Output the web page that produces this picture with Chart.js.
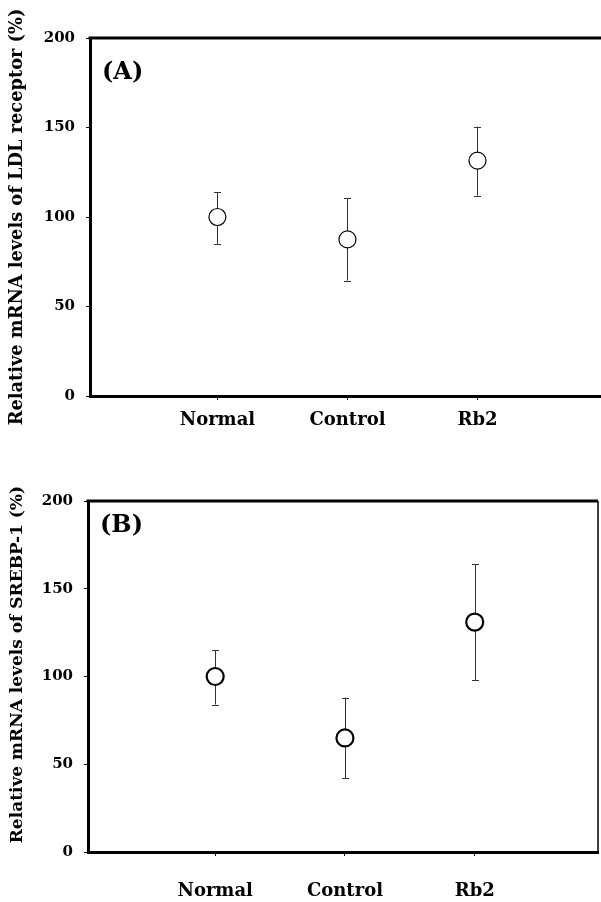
<!DOCTYPE html>
<html><head><meta charset="utf-8">
<script src="https://cdn.jsdelivr.net/npm/chart.js@4.4.0/dist/chart.umd.min.js"></script>
<style>
html,body{margin:0;padding:0;background:#fff;overflow:hidden;width:601px;height:902px}
.box{position:absolute;left:0;width:601px;height:451px}
#b1{top:0}
#b2{top:451px}
</style></head><body>
<div class="box" id="b1"><canvas id="c1"></canvas></div>
<div class="box" id="b2"><canvas id="c2"></canvas></div>
<script>
const categories = ['Normal', 'Control', 'Rb2'];
const ldlMean  = [100, 87.5, 131.5];
const ldlUpper = [114, 110.5, 150.5];
const ldlLower = [85, 64.5, 112];
const srebpMean  = [100, 65, 131];
const srebpUpper = [115, 88, 164];
const srebpLower = [84, 42, 98];
const yTickValues = [0, 50, 100, 150, 200];

const FONT = "'DejaVu Serif', 'Liberation Serif', serif";

const errorBarPlugin = {
  id: 'errorBars',
  beforeDatasetsDraw(chart) {
    const ctx = chart.ctx;
    const ys = chart.scales.y;
    chart.data.datasets.forEach((ds, di) => {
      const meta = chart.getDatasetMeta(di);
      ctx.save();
      ctx.strokeStyle = '#333';
      ctx.lineWidth = 1;
      meta.data.forEach((pt, i) => {
        const x = Math.round(pt.x) + 0.5;
        const yu = ys.getPixelForValue(ds.errUpper[i]);
        const yl = ys.getPixelForValue(ds.errLower[i]);
        ctx.beginPath();
        ctx.moveTo(x, yu); ctx.lineTo(x, yl);
        ctx.moveTo(x - 3.5, Math.round(yu) + 0.5); ctx.lineTo(x + 3.5, Math.round(yu) + 0.5);
        ctx.moveTo(x - 3.5, Math.round(yl) + 0.5); ctx.lineTo(x + 3.5, Math.round(yl) + 0.5);
        ctx.stroke();
      });
      ctx.restore();
    });
  }
};

const framePlugin = {
  id: 'frame',
  afterDraw(chart, args, opts) {
    const a = chart.chartArea;
    const ctx = chart.ctx;
    ctx.save();
    ctx.strokeStyle = '#000';
    ctx.lineWidth = opts.topWidth;
    ctx.beginPath();
    ctx.moveTo(a.left - 1.5, a.top); ctx.lineTo(a.right, a.top);
    ctx.stroke();
    if (opts.rightWidth > 0) {
      ctx.lineWidth = opts.rightWidth;
      ctx.beginPath();
      ctx.moveTo(a.right, a.top); ctx.lineTo(a.right, a.bottom + 1);
      ctx.stroke();
    }
    ctx.fillStyle = '#000';
    ctx.font = 'bold 24px ' + FONT;
    ctx.textBaseline = 'middle';
    ctx.textAlign = 'left';
    ctx.fillText(opts.label, a.left + 12, a.top + opts.labelDy);
    ctx.restore();
  }
};

function makeChart(id, cfg) {
  return new Chart(document.getElementById(id), {
    type: 'scatter',
    data: {
      datasets: [{
        data: cfg.mean.map((v, i) => ({x: i, y: v})),
        errUpper: cfg.upper,
        errLower: cfg.lower,
        pointStyle: 'circle',
        pointRadius: 8.5,
        pointHoverRadius: 8.5,
        pointBackgroundColor: '#fff',
        pointBorderColor: '#000',
        pointBorderWidth: cfg.pointBorder,
        showLine: false
      }]
    },
    options: {
      responsive: true,
      maintainAspectRatio: false,
      animation: false,
      events: [],
      layout: {autoPadding: false, padding: {top: cfg.padTop, right: cfg.padRight, left: 0, bottom: 0}},
      plugins: {
        legend: {display: false},
        tooltip: {enabled: false},
        frame: {topWidth: 3, rightWidth: cfg.rightWidth, label: cfg.label, labelDy: cfg.labelDy}
      },
      scales: {
        x: {
          type: 'linear',
          min: -0.98, max: 2.95,
          afterBuildTicks(s) { s.ticks = categories.map((c, i) => ({value: i})); },
          afterFit(s) { s.height = cfg.xHeight; },
          ticks: {
            callback: (v) => categories[v] ?? '',
            font: {family: FONT, size: 18, weight: 'bold'},
            color: '#000',
            padding: cfg.xPad,
            maxRotation: 0,
            autoSkip: false
          },
          grid: {drawOnChartArea: false, tickLength: 4, tickColor: '#000', tickWidth: 1},
          border: {color: '#000', width: 3}
        },
        y: {
          min: 0, max: 200,
          afterBuildTicks(s) { s.ticks = yTickValues.map(v => ({value: v})); },
          afterFit(s) { s.width = cfg.yWidth; },
          ticks: {
            font: {family: FONT, size: 15, weight: 'bold'},
            color: '#000',
            padding: 11
          },
          grid: {drawOnChartArea: false, tickLength: 4, tickColor: '#000', tickWidth: 1},
          border: {color: '#000', width: 3},
          title: {
            display: true,
            text: cfg.title,
            font: {family: FONT, size: cfg.titleSize, weight: 'bold'},
            color: '#000',
            padding: {top: 7, bottom: 0}
          }
        }
      }
    },
    plugins: [errorBarPlugin, framePlugin]
  });
}

makeChart('c1', {
  mean: ldlMean, upper: ldlUpper, lower: ldlLower,
  pointBorder: 1.2, padTop: 38, padRight: 0, rightWidth: 0,
  xHeight: 55, yWidth: 90, xPad: 10,
  label: '(A)', labelDy: 35, titleSize: 17.8,
  title: 'Relative mRNA levels of LDL receptor (%)'
});
makeChart('c2', {
  mean: srebpMean, upper: srebpUpper, lower: srebpLower,
  pointBorder: 2.2, padTop: 50, padRight: 3, rightWidth: 1.5,
  xHeight: 50, yWidth: 88, xPad: 25,
  label: '(B)', labelDy: 25, titleSize: 17,
  title: '    Relative mRNA levels of SREBP-1 (%)'
});
</script>
</body></html>
